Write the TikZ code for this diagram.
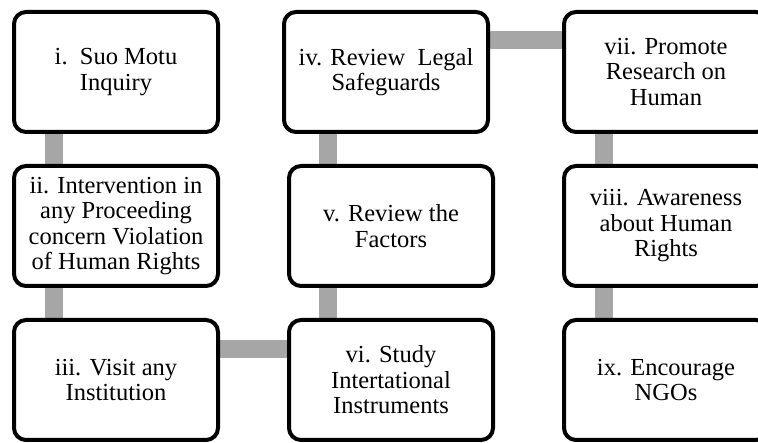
\documentclass[tikz,border=0pt]{standalone}
\usepackage{fontspec}
\setmainfont{Liberation Serif}
\usetikzlibrary{positioning,backgrounds}

\begin{document}
\begin{tikzpicture}[
  x=1pt,y=-1pt,
  every node/.style={draw,line width=4pt,rounded corners=12pt,fill=white,
    minimum width=204pt,minimum height=120pt,inner sep=2pt,align=center,
    font=\fontsize{24.5}{25.5}\selectfont},
  node distance=30pt and 67pt,
  link/.style={draw=black!35,line width=18pt},
  ]
  \clip (0,0) rectangle (758,443);
  \node(n1) at (116,72){i.~~Suo Motu\\Inquiry};
  \node[below=of n1](n2){ii. Intervention in\\any Proceeding\\concern Violation\\of Human Rights};
  \node[below=of n2](n3){iii. Visit any\\Institution};
  \node[right=62pt of n1](n4){iv. Review~~Legal\\Safeguards};
  \node[right=of n2](n5){v. Review the\\Factors};
  \node[right=of n3](n6){vi. Study\\Intertational\\Instruments};
  \node[right=of n5,yshift=124pt+30pt](n7){vii. Promote\\Research on\\Human};
  \node[right=of n5](n8){viii. Awareness\\about Human\\Rights};
  \node[right=of n6](n9){ix. Encourage\\NGOs};
  \begin{scope}[on background layer]
    \path[link]
    ([xshift=42pt]n1.south west) -- ([xshift=42pt]n2.north west)
    ([xshift=42pt]n2.south west) -- ([xshift=42pt]n3.north west)
    ([yshift=-31pt]n3.north east) -- ([yshift=-31pt]n6.north west)
    ([xshift=41pt]n6.north west) -- ([xshift=41pt]n6.north west |- n5.south)
    ([xshift=41pt]n5.north west) -- ([xshift=41pt]n5.north west |- n4.south)
    ([yshift=-30pt]n4.north east) -- ([yshift=-30pt]n7.north west)
    ([xshift=42pt]n7.south west) -- ([xshift=42pt]n8.north west)
    ([xshift=42pt]n8.south west) -- ([xshift=42pt]n9.north west);
  \end{scope}
\end{tikzpicture}
\end{document}
